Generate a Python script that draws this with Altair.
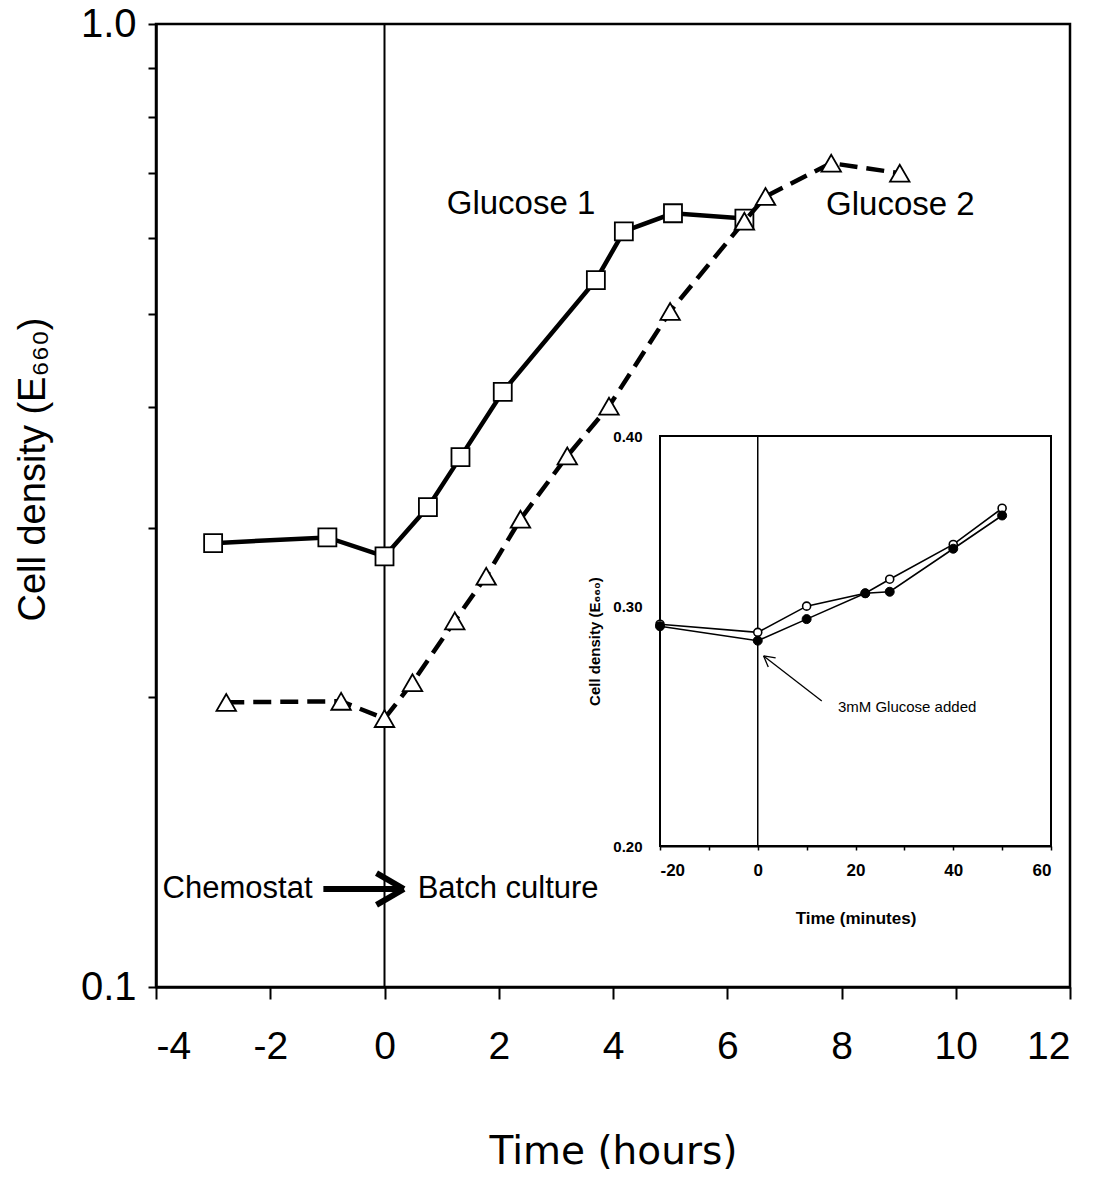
import altair as alt
import pandas as pd

# ---- main chart data (hours, cell density E660) ----
sq_t = [-3.0, -1.0, 0.0, 0.76, 1.33, 2.07, 3.70, 4.19, 5.05, 6.30]
sq_v = [0.289, 0.293, 0.280, 0.315, 0.355, 0.415, 0.542, 0.609, 0.636, 0.628]
tri_t = [-2.77, -0.76, 0.0, 0.49, 1.23, 1.78, 2.38, 3.20, 3.93, 5.00, 6.30, 6.67, 7.82, 9.02]
tri_v = [0.1975, 0.198, 0.190, 0.207, 0.240, 0.267, 0.306, 0.356, 0.401, 0.503, 0.624, 0.662, 0.717, 0.700]

# ---- inset data (minutes, cell density E660) ----
in_t = [-20, 0, 10, 22, 27, 40, 50]
in_open = [0.291, 0.287, 0.300, 0.3066, 0.314, 0.333, 0.354]
in_fill = [0.290, 0.283, 0.2935, 0.3066, 0.3074, 0.3306, 0.3497]

x_ticks = [-4, -2, 0, 2, 4, 6, 8, 10, 12]
y_ticks = [0.1, 0.2, 0.3, 0.4, 0.5, 0.6, 0.7, 0.8, 0.9, 1.0]
in_x_ticks = [-20, -10, 0, 10, 20, 30, 40, 50, 60]
in_y_ticks = [0.2, 0.3, 0.4]

FONT = "Liberation Sans"

# ---------------- main encodings ----------------
x_scale = alt.Scale(domain=[-4, 12], nice=False, zero=False)
y_scale = alt.Scale(type="log", domain=[0.1, 1.0], nice=False)
x_axis = alt.Axis(values=x_ticks, labelExpr="'' + datum.value", tickSize=12, tickWidth=2,
                  domainWidth=2.5, domainColor="black", tickColor="black",
                  labelFont=FONT, labelFontSize=39, labelColor="black", labelPadding=28,
                  titleFont="DejaVu Sans", titleFontSize=39, titleFontWeight="normal",
                  titleColor="black", titlePadding=66, grid=False, orient="bottom")
y_axis = alt.Axis(values=y_ticks,
                  labelExpr="datum.value == 1 ? '1.0' : (datum.value == 0.1 ? '0.1' : '')",
                  tickSize=8, tickWidth=2, domainWidth=2.5, domainColor="black", tickColor="black",
                  labelFont=FONT, labelFontSize=40, labelColor="black", labelPadding=12,
                  titleFont=FONT, titleFontSize=38, titleFontWeight="normal", titleColor="black",
                  titlePadding=28, titleY=445, grid=False, orient="left")


def MX(f):
    return alt.X(f, type="quantitative", scale=x_scale, axis=x_axis, title="Time (hours)")


def MY(f):
    return alt.Y(f, type="quantitative", scale=y_scale, axis=y_axis, title="Cell density (E₆₆₀)")


sq = pd.DataFrame({"t": sq_t, "v": sq_v})
tri = pd.DataFrame({"t": tri_t, "v": tri_v})

vline = alt.Chart(pd.DataFrame({"t": [0.0]})).mark_rule(color="black", strokeWidth=2).encode(x=MX("t"))

sq_line = alt.Chart(sq).mark_line(color="black", strokeWidth=4.5).encode(x=MX("t"), y=MY("v"))
sq_pts = alt.Chart(sq).mark_point(shape="square", size=324, filled=True, fill="white",
                                  stroke="black", strokeWidth=1.8, opacity=1).encode(x=MX("t"), y=MY("v"))
tri_line = alt.Chart(tri).mark_line(color="black", strokeWidth=4.5, strokeDash=[18, 9]).encode(
    x=MX("t"), y=MY("v"))
tri_pts = alt.Chart(tri).mark_point(shape="triangle-up", size=380, filled=True, fill="white",
                                    stroke="black", strokeWidth=1.8, opacity=1).encode(x=MX("t"), y=MY("v"))

labels = pd.DataFrame({
    "t": [1.09, 7.73],
    "v": [0.650, 0.649],
    "txt": ["Glucose 1", "Glucose 2"],
})
lab_txt = alt.Chart(labels).mark_text(font=FONT, fontSize=33, align="left", baseline="middle",
                                      color="black").encode(x=MX("t"), y=MY("v"), text="txt:N")

ann_l = alt.Chart(pd.DataFrame({"t": [-1.26], "v": [0.1264], "txt": ["Chemostat"]})).mark_text(
    font=FONT, fontSize=31, align="right", baseline="middle", color="black").encode(
    x=MX("t"), y=MY("v"), text="txt:N")
ann_r = alt.Chart(pd.DataFrame({"t": [0.58], "v": [0.1264], "txt": ["Batch culture"]})).mark_text(
    font=FONT, fontSize=31, align="left", baseline="middle", color="black").encode(
    x=MX("t"), y=MY("v"), text="txt:N")

arrow = pd.DataFrame({
    "t": [-1.07, -0.14, -0.14],
    "v": [0.1264, 0.1313, 0.1217],
    "t2": [0.30, 0.34, 0.34],
    "v2": [0.1264, 0.1264, 0.1264],
})
arrow_r = alt.Chart(arrow).mark_rule(color="black", strokeWidth=6).encode(
    x=MX("t"), y=MY("v"), x2="t2", y2="v2")

main = alt.layer(vline, sq_line, sq_pts, tri_line, tri_pts, lab_txt, ann_l, ann_r, arrow_r)

# ---------------- inset encodings ----------------
ix_scale = alt.Scale(domain=[-20, 60], nice=False, zero=False, range=[504, 895])
iy_scale = alt.Scale(type="log", domain=[0.2, 0.4], nice=False, range=[822, 412])
ix_axis = alt.Axis(values=in_x_ticks, labelExpr="datum.value % 20 == 0 ? '' + datum.value : ''",
                   orient="bottom", offset=-141, tickSize=4, tickWidth=1.5, domainWidth=2,
                   domainColor="black", tickColor="black", labelFont=FONT, labelFontSize=17,
                   labelFontWeight="bold", labelColor="black", labelPadding=12,
                   titleFont=FONT, titleFontSize=17, titleFontWeight="bold", titleColor="black",
                   titlePadding=32, grid=False)
iy_axis = alt.Axis(values=in_y_ticks, labelExpr="format(datum.value, '.2f')", orient="left",
                   offset=-504, ticks=False, domainWidth=2, domainColor="black",
                   labelFont=FONT, labelFontSize=15, labelFontWeight="bold", labelColor="black",
                   labelPadding=18, titleFont=FONT, titleFontSize=15, titleFontWeight="bold",
                   titleColor="black", titlePadding=10, grid=False)


def IX(f):
    return alt.X(f, type="quantitative", scale=ix_scale, axis=ix_axis, title="Time (minutes)")


def IY(f):
    return alt.Y(f, type="quantitative", scale=iy_scale, axis=iy_axis, title="Cell density (E₆₆₀)")


box = alt.Chart(pd.DataFrame({"m": [-20], "m2": [60], "w": [0.2], "w2": [0.4]})).mark_rect(
    fill="white", stroke="black", strokeWidth=2).encode(x=IX("m"), x2="m2", y=IY("w"), y2="w2")

ivline = alt.Chart(pd.DataFrame({"m": [0], "w": [0.2], "w2": [0.4]})).mark_rule(
    color="black", strokeWidth=1.5).encode(x=IX("m"), y=IY("w"), y2="w2")

op = pd.DataFrame({"m": in_t, "w": in_open})
fl = pd.DataFrame({"m": in_t, "w": in_fill})

op_line = alt.Chart(op).mark_line(color="black", strokeWidth=1.6).encode(x=IX("m"), y=IY("w"))
fl_line = alt.Chart(fl).mark_line(color="black", strokeWidth=1.6).encode(x=IX("m"), y=IY("w"))
op_pts = alt.Chart(op).mark_point(shape="circle", size=64, filled=True, fill="white",
                                  stroke="black", strokeWidth=1.6, opacity=1).encode(x=IX("m"), y=IY("w"))
fl_pts = alt.Chart(fl).mark_point(shape="circle", size=81, filled=True, fill="black",
                                  stroke="black", strokeWidth=1, opacity=1).encode(x=IX("m"), y=IY("w"))

iann = alt.Chart(pd.DataFrame({"m": [16.4], "w": [0.253], "txt": ["3mM Glucose added"]})).mark_text(
    font=FONT, fontSize=15, align="left", baseline="middle", color="black").encode(
    x=IX("m"), y=IY("w"), text="txt:N")

iarrow = pd.DataFrame({
    "m": [13.1, 2.15, 3.66],
    "w": [0.2556, 0.2707, 0.2749],
    "m2": [1.2, 1.2, 1.2],
    "w2": [0.2758, 0.2758, 0.2758],
})
iarrow_r = alt.Chart(iarrow).mark_rule(color="black", strokeWidth=1.3).encode(
    x=IX("m"), y=IY("w"), x2="m2", y2="w2")

inset = alt.layer(box, ivline, op_line, fl_line, op_pts, fl_pts, iann, iarrow_r)

chart = alt.layer(main, inset).resolve_scale(x="independent", y="independent").properties(
    width=914, height=963,
    padding={"left": 156, "top": 24, "right": 27, "bottom": 192},
    autosize=alt.AutoSizeParams(type="none"),
    background="white",
).configure_view(stroke="black", strokeWidth=2.5).configure_axis(grid=False)

chart.save("out.html", embed_options={"renderer": "svg", "actions": False})
